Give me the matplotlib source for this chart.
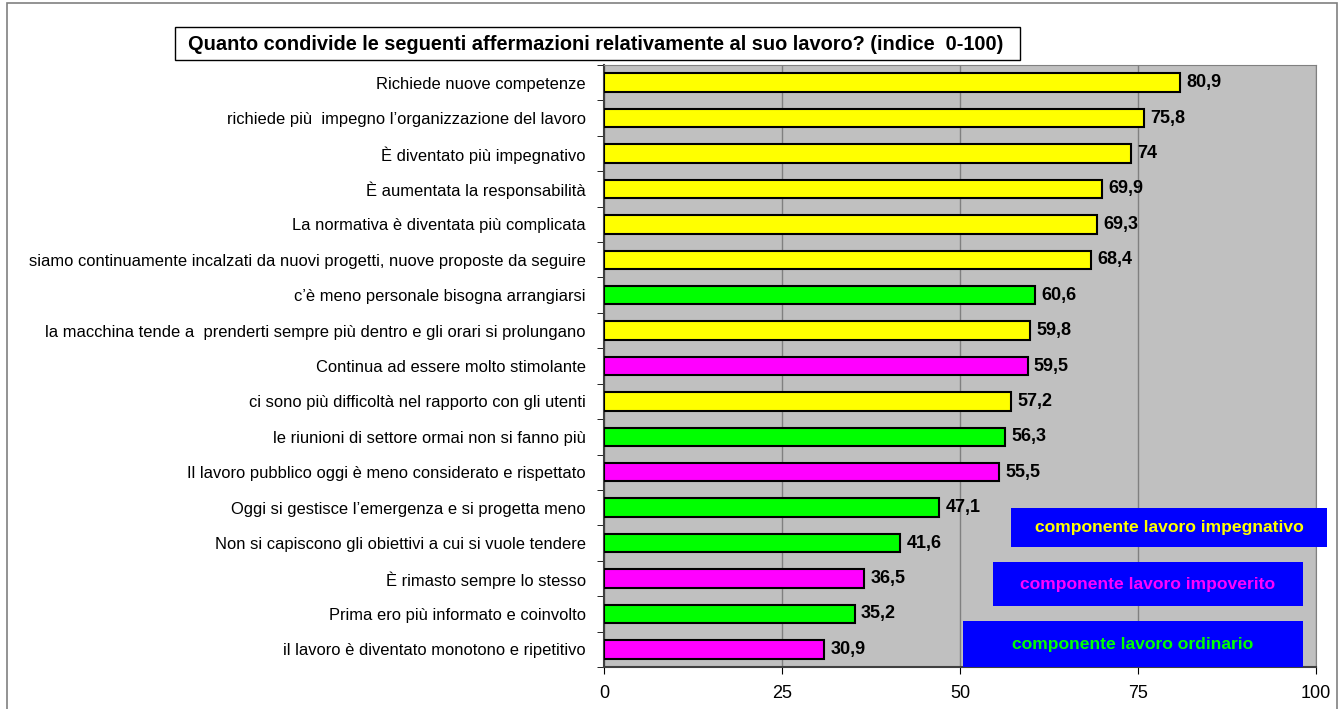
import matplotlib.pyplot as plt
from matplotlib.patches import Rectangle

plt.rcParams['font.family'] = ['Liberation Sans', 'DejaVu Sans']

# data, top to bottom as in the chart
categories = [
    "Richiede nuove competenze",
    "richiede più  impegno l’organizzazione del lavoro",
    "È diventato più impegnativo",
    "È aumentata la responsabilità",
    "La normativa è diventata più complicata",
    "siamo continuamente incalzati da nuovi progetti, nuove proposte da seguire",
    "c’è meno personale bisogna arrangiarsi",
    "la macchina tende a  prenderti sempre più dentro e gli orari si prolungano",
    "Continua ad essere molto stimolante",
    "ci sono più difficoltà nel rapporto con gli utenti",
    "le riunioni di settore ormai non si fanno più",
    "Il lavoro pubblico oggi è meno considerato e rispettato",
    "Oggi si gestisce l’emergenza e si progetta meno",
    "Non si capiscono gli obiettivi a cui si vuole tendere",
    "È rimasto sempre lo stesso",
    "Prima ero più informato e coinvolto",
    "il lavoro è diventato monotono e ripetitivo",
]
values = [80.9, 75.8, 74, 69.9, 69.3, 68.4, 60.6, 59.8, 59.5, 57.2, 56.3, 55.5, 47.1, 41.6, 36.5, 35.2, 30.9]
# I = impegnativo, P = impoverito, O = ordinario
components = ["I", "I", "I", "I", "I", "I", "O", "I", "P", "I", "O", "P", "O", "O", "P", "O", "P"]

comp_colors = {"I": "#FFFF00", "P": "#FF00FF", "O": "#00FF00"}
legend_labels = ["componente lavoro impegnativo", "componente lavoro impoverito", "componente lavoro ordinario"]
legend_keys = ["I", "P", "O"]

W, H = 1343, 709
fig = plt.figure(figsize=(W / 100, H / 100), dpi=100)


def fx(px):
    return px / W


def fy(py):
    return 1 - py / H


# outer frame
fig.patches.append(Rectangle((fx(7), fy(712)), fx(1330), 1, transform=fig.transFigure,
                             fill=False, edgecolor='#808080', lw=1.2))

ax = fig.add_axes([fx(604), fy(667), fx(1316 - 604), (667 - 65) / H])
ax.set_facecolor('#C0C0C0')

ypos = list(range(len(categories)))
bar_colors = [comp_colors[c] for c in components]
bars = ax.barh(ypos, values, height=0.52, color=bar_colors, edgecolor='black', linewidth=1.5, zorder=3)

for b, v in zip(bars, values):
    txt = f"{v:g}".replace('.', ',')
    ax.annotate(txt, (b.get_width(), b.get_y() + b.get_height() / 2), xytext=(4.5, 0),
                textcoords='offset points', va='center', ha='left',
                fontsize=13, fontweight='bold', zorder=4)

ax.set_xlim(0, 100)
ax.set_ylim(len(categories) - 0.5, -0.5)
ax.set_xticks([0, 25, 50, 75, 100])
ax.set_xticklabels(['0', '25', '50', '75', '100'], fontsize=13)
ax.xaxis.grid(True, color='#808080', lw=1, zorder=0)
ax.set_axisbelow(True)

ax.set_yticks(ypos)
ax.set_yticklabels(categories, fontsize=11.9)
ax.tick_params(axis='y', length=0, pad=13)
ax.set_yticks([k + 0.5 for k in range(-1, len(categories))], minor=True)
ax.tick_params(axis='y', which='minor', length=5, color='black', direction='out')
ax.tick_params(axis='x', length=5, color='black', direction='out', pad=8)

for side in ['top', 'right']:
    ax.spines[side].set_color('#808080')
for side in ['left', 'bottom']:
    ax.spines[side].set_color('#404040')
    ax.spines[side].set_linewidth(1.5)

# title box
fig.patches.append(Rectangle((fx(175), fy(60)), fx(1020 - 175), (60 - 27) / H,
                             transform=fig.transFigure, facecolor='white', edgecolor='black', lw=1))
fig.text(fx(596), fy(44), "Quanto condivide le seguenti affermazioni relativamente al suo lavoro? (indice  0-100)",
         ha='center', va='center', fontsize=14.4, fontweight='bold')

# legend boxes
leg_boxes = [(1011, 508, 1327, 547), (993, 562, 1303, 606), (963, 621, 1303, 667)]
for (x0, y0, x1, y1), key, lab in zip(leg_boxes, legend_keys, legend_labels):
    fig.patches.append(Rectangle((fx(x0), fy(y1)), fx(x1 - x0), (y1 - y0) / H,
                                 transform=fig.transFigure, facecolor='#0000FF', edgecolor='none', zorder=5))
    fig.text(fx((x0 + x1) / 2), fy((y0 + y1) / 2), lab, ha='center', va='center',
             color=comp_colors[key], fontsize=12.6, fontweight='bold', zorder=6)

fig.savefig('out.png', dpi=100)
